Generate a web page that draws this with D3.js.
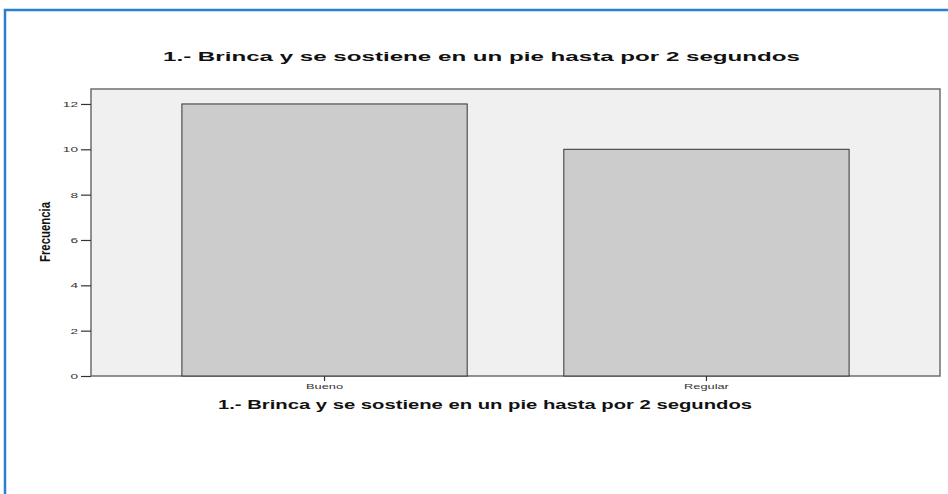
<!DOCTYPE html>
<html><head><meta charset="utf-8">
<script src="https://cdn.jsdelivr.net/npm/d3@7"></script>
<style>body{margin:0;background:#fff}svg{display:block}</style>
</head><body>
<script>
const categories = ["Bueno", "Regular"];
const frequencies = [12, 10];
const yTicks = [0, 2, 4, 6, 8, 10, 12];
const titleText = "1.- Brinca y se sostiene en un pie hasta por 2 segundos";
const xAxisTitle = "1.- Brinca y se sostiene en un pie hasta por 2 segundos";
const yAxisTitle = "Frecuencia";

const W = 948, H = 494;
const FONT = "Liberation Sans, Arial, sans-serif";
const svg = d3.select("body").append("svg").attr("width", W).attr("height", H);

// blue frame
svg.append("path").attr("d", `M5,${H} L5,10 L${W},10`).attr("fill", "none")
  .attr("stroke", "#2b7fd3").attr("stroke-width", 2.5);

const plot = {left: 91, right: 940, top: 89, bottom: 376};
const x = d3.scaleBand().domain(categories).range([plot.left, plot.right])
  .paddingInner(0.253).paddingOuter(0.238);
const y = d3.scaleLinear().domain([0, 12.66]).range([plot.bottom, plot.top]);

svg.append("rect").attr("x", plot.left).attr("y", plot.top)
  .attr("width", plot.right - plot.left).attr("height", plot.bottom - plot.top)
  .attr("fill", "#f0f0f0").attr("stroke", "#6e6e6e").attr("stroke-width", 1.5);

svg.selectAll(".bar").data(categories).enter().append("rect")
  .attr("x", d => x(d)).attr("width", x.bandwidth())
  .attr("y", (d, i) => y(frequencies[i]))
  .attr("height", (d, i) => y(0) - y(frequencies[i]))
  .attr("fill", "#cccccc").attr("stroke", "#333").attr("stroke-width", 1);

function stretch(sel, k) {
  sel.each(function () {
    const w = this.getComputedTextLength();
    d3.select(this).attr("textLength", w * k).attr("lengthAdjust", "spacingAndGlyphs");
  });
}

const yAxis = d3.axisLeft(y).tickValues(yTicks).tickSize(10).tickPadding(3);
const gy = svg.append("g").attr("transform", `translate(${plot.left},0)`).call(yAxis);
gy.select(".domain").remove();
gy.selectAll(".tick line").attr("stroke", "#333").attr("stroke-width", 1.2);
gy.selectAll(".tick text").attr("font-family", FONT)
  .attr("font-size", 8).attr("fill", "#333").call(stretch, 1.7);

const xAxis = d3.axisBottom(x).tickSize(5).tickPadding(2);
const gx = svg.append("g").attr("transform", `translate(0,${plot.bottom})`).call(xAxis);
gx.select(".domain").remove();
gx.selectAll(".tick line").attr("stroke", "#333").attr("stroke-width", 1.2);
gx.selectAll(".tick text").attr("font-family", FONT)
  .attr("font-size", 8).attr("fill", "#333").call(stretch, 1.6);

svg.append("text").attr("x", (163 + 800) / 2).attr("y", 61).attr("text-anchor", "middle")
  .attr("font-family", FONT).attr("font-weight", "bold")
  .attr("font-size", 13.5).attr("fill", "#111")
  .attr("textLength", 637).attr("lengthAdjust", "spacingAndGlyphs").text(titleText);

svg.append("text").attr("x", (218 + 752) / 2).attr("y", 409).attr("text-anchor", "middle")
  .attr("font-family", FONT).attr("font-weight", "bold")
  .attr("font-size", 12).attr("fill", "#111")
  .attr("textLength", 534).attr("lengthAdjust", "spacingAndGlyphs").text(xAxisTitle);

svg.append("text").attr("transform", "translate(50,232) rotate(-90)").attr("text-anchor", "middle")
  .attr("font-family", "Liberation Sans Narrow, Liberation Sans, Arial, sans-serif").attr("font-weight", "bold")
  .attr("font-size", 14).attr("fill", "#111")
  .attr("textLength", 60).attr("lengthAdjust", "spacingAndGlyphs").text(yAxisTitle);
</script>
</body></html>
